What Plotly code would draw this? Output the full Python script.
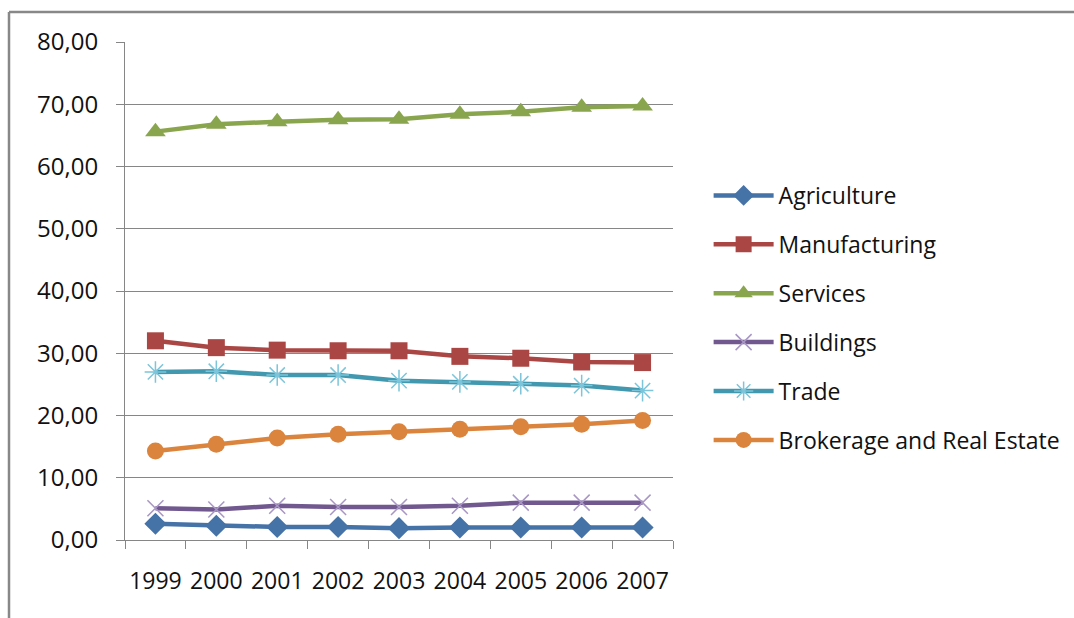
import plotly.graph_objects as go

# Sector shares by year
years = ["1999", "2000", "2001", "2002", "2003", "2004", "2005", "2006", "2007"]
agriculture = [2.6, 2.3, 2.1, 2.1, 1.9, 2.0, 2.0, 2.0, 2.0]
manufacturing = [32.0, 30.9, 30.5, 30.4, 30.4, 29.5, 29.2, 28.6, 28.5]
services = [65.6, 66.8, 67.2, 67.5, 67.6, 68.4, 68.8, 69.5, 69.7]
buildings = [5.1, 4.9, 5.5, 5.3, 5.3, 5.5, 6.0, 6.0, 6.0]
trade = [27.0, 27.1, 26.5, 26.5, 25.6, 25.4, 25.1, 24.8, 24.0]
brokerage = [14.3, 15.4, 16.4, 17.0, 17.4, 17.8, 18.2, 18.6, 19.2]

y_ticks = [0, 10, 20, 30, 40, 50, 60, 70, 80]
y_tick_text = ["0,00", "10,00", "20,00", "30,00", "40,00", "50,00", "60,00", "70,00", "80,00"]

FONT = "Open Sans"

series = [
    ("Agriculture", agriculture, "#4572A7", dict(symbol="diamond", size=17, color="#4572A7")),
    ("Manufacturing", manufacturing, "#AA4643", dict(symbol="square", size=17, color="#AA4643")),
    ("Services", services, "#89A54E", dict(symbol="triangle-up", size=18, color="#89A54E")),
    ("Buildings", buildings, "#71588F",
     dict(symbol="x-thin-open", size=16, color="#A896C4", line=dict(width=1.5, color="#A896C4"))),
    ("Trade", trade, "#4198AF",
     dict(symbol="asterisk-open", size=18, color="#7CC5DA", line=dict(width=1.5, color="#7CC5DA"))),
    ("Brokerage and Real Estate", brokerage, "#DB843D", dict(symbol="circle", size=17, color="#DB843D")),
]

fig = go.Figure()
for i, (name, vals, col, mk) in enumerate(series):
    fig.add_trace(go.Scatter(
        x=years, y=vals, name=name, mode="lines+markers",
        line=dict(color=col, width=4.5),
        marker=mk, legendgroup=f"g{i}",
    ))

fig.update_layout(
    width=1074, height=618,
    margin=dict(l=125, r=401, t=42, b=78, autoexpand=False),
    paper_bgcolor="white", plot_bgcolor="white",
    font=dict(family=FONT, size=24, color="#111111"),
    showlegend=True,
    legend=dict(
        x=1.065, y=0.735, xanchor="left", yanchor="top",
        font=dict(family=FONT, size=23, color="#111111"),
        tracegroupgap=16, itemwidth=60,
        bgcolor="rgba(0,0,0,0)",
    ),
    xaxis=dict(
        type="category", tickson="boundaries",
        ticks="outside", ticklen=8, tickcolor="#868686",
        showline=True, linecolor="#868686", linewidth=1,
        showgrid=False, zeroline=False,
        tickangle=0, automargin=False,
        tickfont=dict(family=FONT, size=23, color="#111111"),
        ticklabelstandoff=20,
        range=[-0.5, 8.5],
    ),
    yaxis=dict(
        range=[0, 80], tickvals=y_ticks, ticktext=y_tick_text,
        ticks="outside", ticklen=8, tickcolor="#868686",
        showline=True, linecolor="#868686", linewidth=1,
        showgrid=True, gridcolor="#868686", gridwidth=1,
        zeroline=False, ticklabelstandoff=13, automargin=False,
    ),
    shapes=[
        # outer frame edges
        dict(type="line", xref="paper", yref="paper",
             x0=(9 - 125) / 548, x1=(1074 - 125) / 548,
             y0=(540 - 12) / 498, y1=(540 - 12) / 498,
             line=dict(color="#888888", width=2.5)),
        dict(type="line", xref="paper", yref="paper",
             x0=(9 - 125) / 548, x1=(9 - 125) / 548,
             y0=(540 - 12) / 498, y1=(540 - 620) / 498,
             line=dict(color="#888888", width=2.5)),
    ],
)

fig.write_html("out.html")
